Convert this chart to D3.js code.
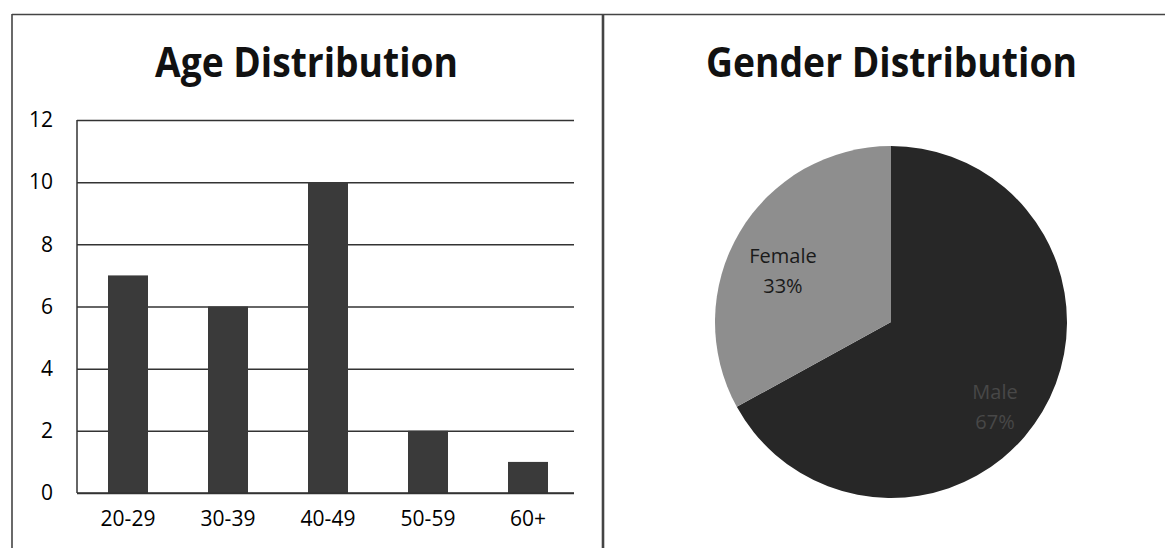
<!DOCTYPE html>
<html>
<head>
<meta charset="utf-8">
<script src="https://cdn.jsdelivr.net/npm/d3@7"></script>
<style>
  html, body { margin: 0; padding: 0; background: #fff; }
  svg { display: block; }
  text { font-family: "Open Sans", "DejaVu Sans", sans-serif; }
</style>
</head>
<body>
<script>
// ---- data ----
const ageCategories = ["20-29", "30-39", "40-49", "50-59", "60+"];
const ageCounts = [7, 6, 10, 2, 1];
const ageTicks = [0, 2, 4, 6, 8, 10, 12];
const genderLabels = ["Male", "Female"];
const genderShares = [67, 33];
const titles = ["Age Distribution", "Gender Distribution"];

const W = 1165, H = 548;
const svg = d3.select("body").append("svg").attr("width", W).attr("height", H);

// ---- frame ----
const frame = svg.append("g").attr("stroke", "#444").attr("fill", "none");
frame.append("line").attr("x1", 12).attr("x2", W).attr("y1", 14.5).attr("y2", 14.5).attr("stroke-width", 1.6);
frame.append("line").attr("x1", 12).attr("x2", 12).attr("y1", 14).attr("y2", H).attr("stroke-width", 1.6);
frame.append("line").attr("x1", 603).attr("x2", 603).attr("y1", 14).attr("y2", H).attr("stroke-width", 2.6);

// ---- titles ----
svg.append("text").attr("x", 306.5).attr("y", 77).attr("text-anchor", "middle")
  .attr("font-size", 42).attr("font-weight", 700).attr("fill", "#111")
  .attr("textLength", 303).attr("lengthAdjust", "spacingAndGlyphs").text(titles[0]);
svg.append("text").attr("x", 891.5).attr("y", 77).attr("text-anchor", "middle")
  .attr("font-size", 42).attr("font-weight", 700).attr("fill", "#111")
  .attr("textLength", 371).attr("lengthAdjust", "spacingAndGlyphs").text(titles[1]);

// ---- bar chart ----
const plotL = 77, plotR = 574, plotT = 120, plotB = 493;
const x = d3.scaleBand().domain(ageCategories).range([78, 578]).paddingInner(0.6).paddingOuter(0.3);
const y = d3.scaleLinear().domain([0, 12]).range([plotB, plotT]);

// grid + y labels
const yAxis = svg.append("g").attr("transform", `translate(${plotL},0)`)
  .call(d3.axisLeft(y).tickValues(ageTicks).tickSize(-(plotR - plotL)).tickPadding(24).tickFormat(d3.format("d")));
yAxis.select(".domain").remove();
yAxis.selectAll(".tick line").attr("stroke", "#333").attr("stroke-width", 1.5);
yAxis.selectAll(".tick text").attr("font-size", 21).attr("fill", "#000")
  .attr("font-family", "'Open Sans', sans-serif");

// bars
svg.append("g").selectAll("rect").data(ageCounts).join("rect")
  .attr("x", (d, i) => x(ageCategories[i]))
  .attr("width", x.bandwidth())
  .attr("y", d => y(d))
  .attr("height", d => y(0) - y(d))
  .attr("fill", "#3a3a3a");

// baseline and y axis line drawn over bars
svg.append("line").attr("x1", plotL).attr("x2", plotR).attr("y1", y(0)).attr("y2", y(0))
  .attr("stroke", "#333").attr("stroke-width", 1.5);
svg.append("line").attr("x1", plotL).attr("x2", plotL).attr("y1", plotT).attr("y2", plotB)
  .attr("stroke", "#333").attr("stroke-width", 1.5);

// x labels
const xAxis = svg.append("g").attr("transform", `translate(0,${plotB})`)
  .call(d3.axisBottom(x).tickSize(0).tickPadding(18));
xAxis.select(".domain").remove();
xAxis.selectAll(".tick text").attr("font-size", 21).attr("fill", "#000")
  .attr("font-family", "'Open Sans', sans-serif");

// ---- pie chart ----
const cx = 891, cy = 322, R = 176;
const pieData = d3.pie().sort(null)(genderShares);
const arc = d3.arc().innerRadius(0).outerRadius(R);
const labelArc = d3.arc().innerRadius(R * 0.7).outerRadius(R * 0.7);
const pieColors = ["#272727", "#8e8e8e"];
const pg = svg.append("g").attr("transform", `translate(${cx},${cy})`);
pg.selectAll("path").data(pieData).join("path")
  .attr("d", arc).attr("fill", (d, i) => pieColors[i]);

const lbl = pg.selectAll("text.lbl").data(pieData).join("text").attr("class", "lbl")
  .attr("text-anchor", "middle").attr("font-size", 20)
  .attr("fill", (d, i) => i === 0 ? "#484848" : "#1a1a1a")
  .attr("transform", d => {
    const c = labelArc.centroid(d);
    return `translate(${c[0] - 2},${c[1] + (c[1] > 0 ? 20 : 10)})`;
  });
lbl.append("tspan").attr("x", 0).attr("y", -6).text((d, i) => genderLabels[i]);
lbl.append("tspan").attr("x", 0).attr("y", 24).text(d => d.data + "%");
</script>
</body>
</html>
